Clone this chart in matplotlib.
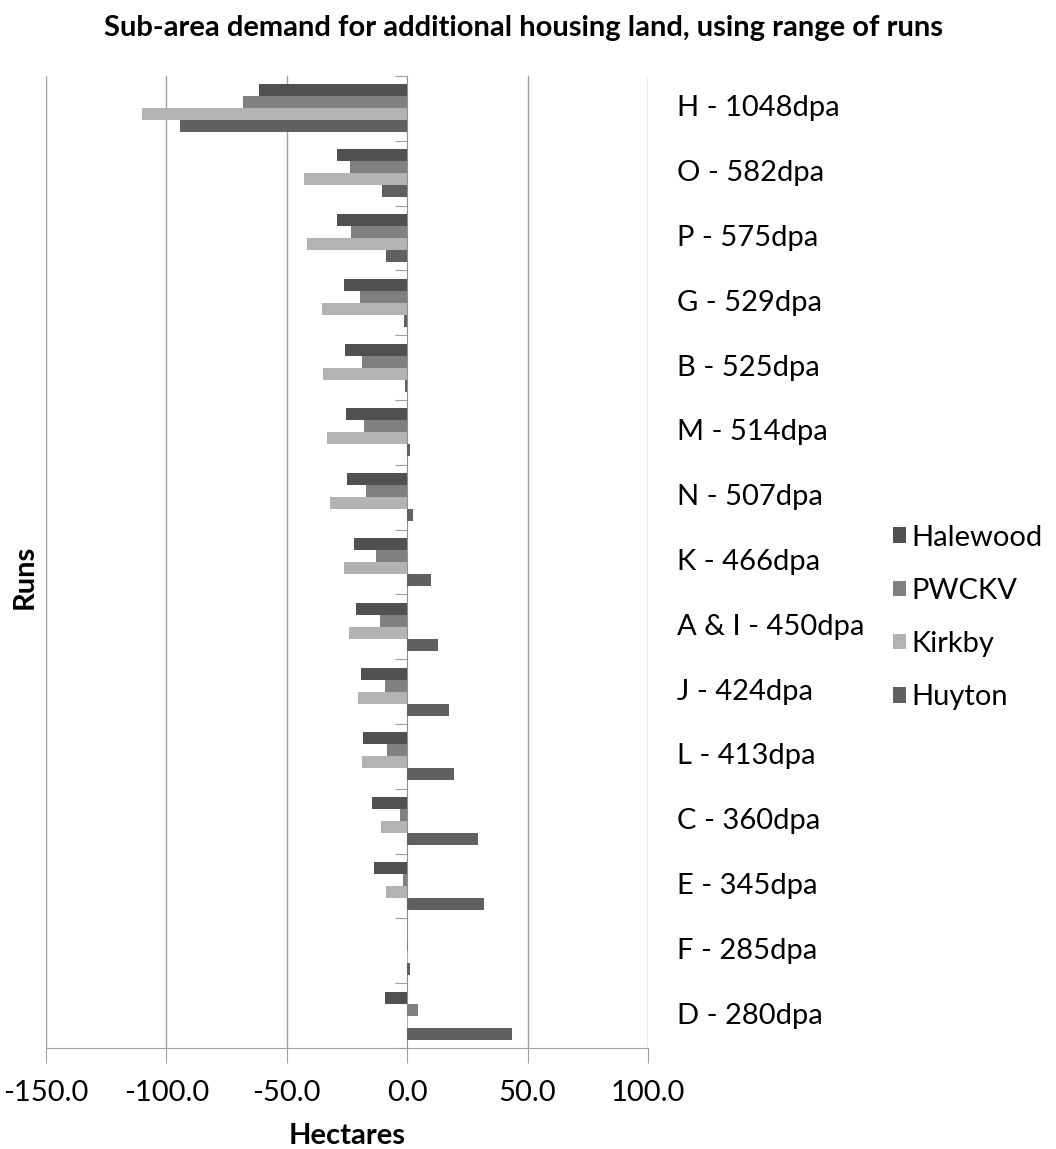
import numpy as np
import matplotlib.pyplot as plt

# runs, top to bottom
runs = ['H - 1048dpa', 'O - 582dpa', 'P - 575dpa', 'G - 529dpa', 'B - 525dpa',
        'M - 514dpa', 'N - 507dpa', 'K - 466dpa', 'A & I - 450dpa', 'J - 424dpa',
        'L - 413dpa', 'C - 360dpa', 'E - 345dpa', 'F - 285dpa', 'D - 280dpa']

# hectares per sub-area
halewood = [-61.4, -29.3, -29.3, -26.4, -25.8, -25.3, -24.8, -22.1, -21.1, -19.0, -18.5, -14.7, -13.6, 0.0, -9.3]
pwckv = [-68.3, -23.9, -23.5, -19.4, -18.9, -17.8, -17.2, -12.9, -11.5, -9.3, -8.2, -2.8, -1.9, 0.4, 4.6]
kirkby = [-110.0, -42.7, -41.7, -35.4, -34.8, -33.2, -32.2, -26.4, -24.2, -20.4, -18.9, -10.8, -8.7, 0.5, 0.4]
huyton = [-94.5, -10.6, -9.0, -1.2, -0.8, 1.2, 2.4, 9.9, 12.9, 17.4, 19.5, 29.2, 31.8, 1.3, 43.4]

series = ['Halewood', 'PWCKV', 'Kirkby', 'Huyton']
colors = ['#505050', '#808080', '#b3b3b3', '#606060']
xticks = [-150, -100, -50, 0, 50, 100]

plt.rcParams['font.family'] = ['Lato', 'DejaVu Sans']
FS = 21

fig = plt.figure(figsize=(10.56, 11.49), dpi=100)
ax = fig.add_axes([46/1056, 101/1149, 602/1056, 972/1149])

data = [halewood, pwckv, kirkby, huyton]
y = np.arange(len(runs))
h = 0.185
for i, vals in enumerate(data):
    ax.barh(y + (i - 1.5)*h, vals, height=h, color=colors[i], label=series[i], zorder=3)

ax.set_xlim(-150, 100)
ax.set_ylim(len(runs) - 0.5, -0.5)
ax.set_xticks(xticks)
ax.set_xticklabels(['%.1f' % v for v in xticks], fontsize=FS)
ax.tick_params(axis='x', length=11, color='#a0a0a0', pad=12)

# value axis sits at zero with ticks between runs
ax.spines['left'].set_position(('data', 0))
ax.spines['left'].set_color('#909090')
ax.set_yticks(np.arange(len(runs) + 1) - 0.5)
ax.set_yticklabels([])
ax.tick_params(axis='y', length=9, color='#a0a0a0')
for s in ['top', 'right']:
    ax.spines[s].set_visible(False)
ax.spines['bottom'].set_color('#a0a0a0')

for v in xticks:
    if v != 0:
        ax.axvline(v, color='#a0a0a0', lw=1, zorder=1)

for i, name in enumerate(runs):
    ax.text(1.048, i, name, transform=ax.get_yaxis_transform(), fontsize=FS,
            va='center', ha='left')

ax.legend(loc='center left', bbox_to_anchor=(1.363, 0.443), frameon=False, fontsize=FS,
          handlelength=0.45, handleheight=0.45, handletextpad=0.2, labelspacing=0.93)

fig.text(0.496, 0.9756, 'Sub-area demand for additional housing land, using range of runs',
         ha='center', va='center', fontsize=FS, fontweight='bold')
fig.text(0.0237, 0.498, 'Runs', rotation=90, ha='center', va='center', fontsize=FS, fontweight='bold')
fig.text(347/1056, 1 - 1136/1149, 'Hectares', ha='center', va='center', fontsize=FS, fontweight='bold')

fig.savefig('out.png', dpi=100)
